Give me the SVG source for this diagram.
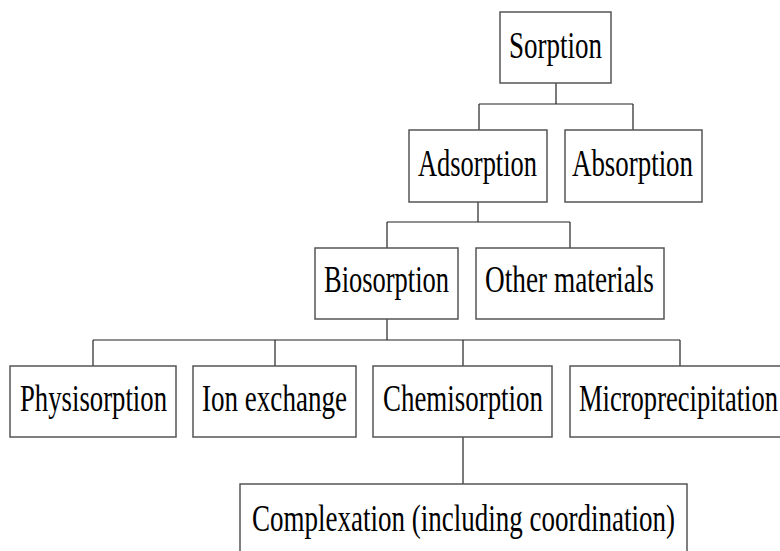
<svg xmlns="http://www.w3.org/2000/svg" width="780" height="551" viewBox="0 0 780 551">
<style>
.box{fill:#fff;stroke:#555;stroke-width:1.5}
.lbl{font-family:"Liberation Serif","DejaVu Serif",serif;font-size:26px;fill:#000}
.conn line{stroke:#222;stroke-width:1.2}
</style>
<rect width="780" height="551" fill="#fff"/>
<g class="conn" id="connectors">
<line x1="556" y1="83" x2="556" y2="104"/>
<line x1="479" y1="104" x2="633" y2="104"/>
<line x1="479" y1="104" x2="479" y2="130"/>
<line x1="633" y1="104" x2="633" y2="130"/>
<line x1="478" y1="202" x2="478" y2="222"/>
<line x1="387" y1="222" x2="570" y2="222"/>
<line x1="387" y1="222" x2="387" y2="248"/>
<line x1="570" y1="222" x2="570" y2="248"/>
<line x1="387" y1="319" x2="387" y2="340"/>
<line x1="93" y1="340" x2="680" y2="340"/>
<line x1="93" y1="340" x2="93" y2="366"/>
<line x1="275" y1="340" x2="275" y2="366"/>
<line x1="463" y1="340" x2="463" y2="366"/>
<line x1="680" y1="340" x2="680" y2="366"/>
<line x1="463" y1="437" x2="463" y2="484"/>
</g>
<g id="sorption"><rect class="box" x="500" y="12" width="111" height="71"/><text class="lbl" transform="translate(509,58) scale(1,1.42)" textLength="93" lengthAdjust="spacingAndGlyphs">Sorption</text></g>
<g id="adsorption"><rect class="box" x="409" y="130" width="138" height="72"/><text class="lbl" transform="translate(418,176) scale(1,1.42)" textLength="119" lengthAdjust="spacingAndGlyphs">Adsorption</text></g>
<g id="absorption"><rect class="box" x="565" y="130" width="137" height="72"/><text class="lbl" transform="translate(572,176) scale(1,1.42)" textLength="121" lengthAdjust="spacingAndGlyphs">Absorption</text></g>
<g id="biosorption"><rect class="box" x="315" y="248" width="143" height="71"/><text class="lbl" transform="translate(324,292) scale(1,1.42)" textLength="125" lengthAdjust="spacingAndGlyphs">Biosorption</text></g>
<g id="other"><rect class="box" x="476" y="248" width="188" height="71"/><text class="lbl" transform="translate(485,292) scale(1,1.42)" textLength="169" lengthAdjust="spacingAndGlyphs">Other materials</text></g>
<g id="physisorption"><rect class="box" x="10" y="366" width="166" height="71"/><text class="lbl" transform="translate(20,411) scale(1,1.42)" textLength="147" lengthAdjust="spacingAndGlyphs">Physisorption</text></g>
<g id="ionexchange"><rect class="box" x="193" y="366" width="163" height="71"/><text class="lbl" transform="translate(202,411) scale(1,1.42)" textLength="145" lengthAdjust="spacingAndGlyphs">Ion exchange</text></g>
<g id="chemisorption"><rect class="box" x="373" y="366" width="179" height="71"/><text class="lbl" transform="translate(383,411) scale(1,1.42)" textLength="160" lengthAdjust="spacingAndGlyphs">Chemisorption</text></g>
<g id="microprecipitation"><rect class="box" x="570" y="366" width="230" height="71"/><text class="lbl" transform="translate(579,411) scale(1,1.42)" textLength="199" lengthAdjust="spacingAndGlyphs">Microprecipitation</text></g>
<g id="complexation"><rect class="box" x="240" y="484" width="447" height="90"/><text class="lbl" transform="translate(252,531) scale(1,1.42)" textLength="423" lengthAdjust="spacingAndGlyphs">Complexation (including coordination)</text></g>
</svg>
